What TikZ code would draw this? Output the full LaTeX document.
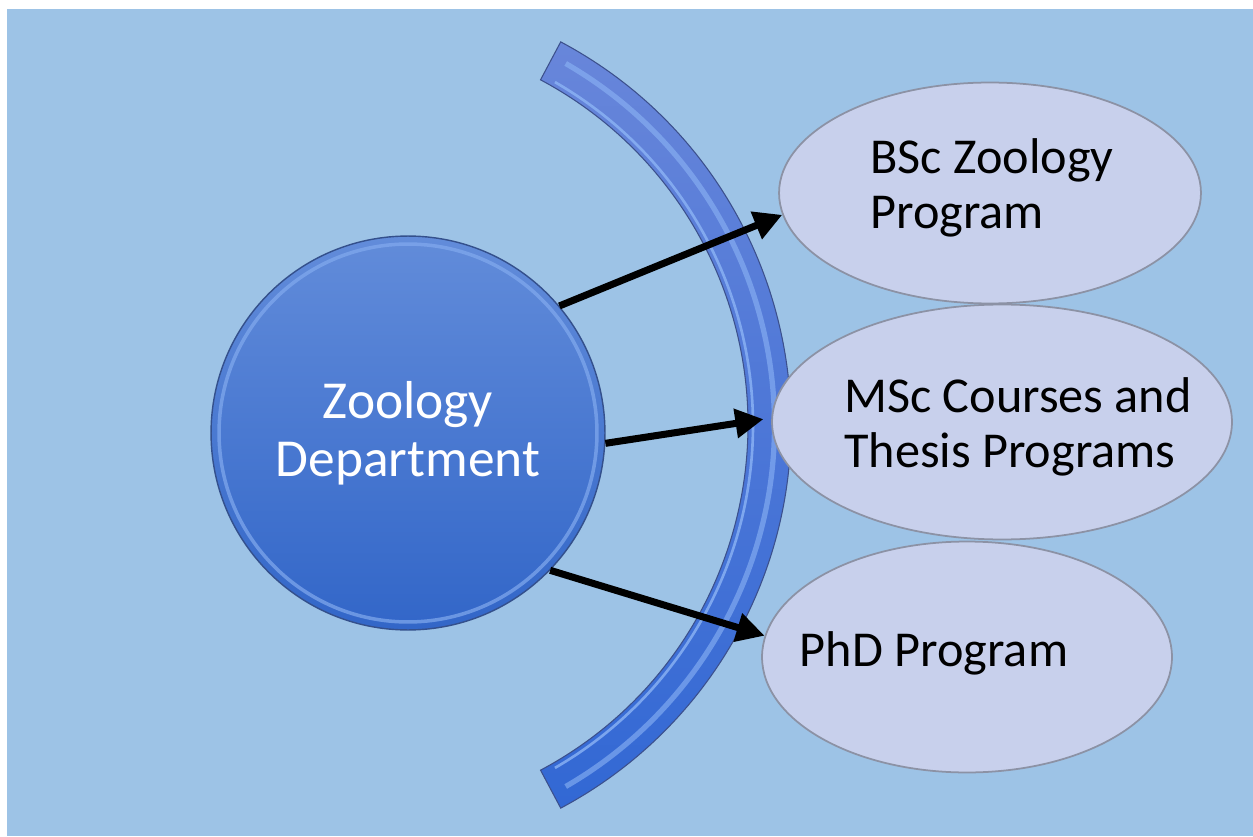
\documentclass[tikz,border=0pt]{standalone}
\usepackage{xcolor}
\usepackage{fontspec}
\setmainfont{Carlito}
\usepackage{tikz}
\usetikzlibrary{calc}
\usetikzlibrary{arrows.meta}
\usetikzlibrary{shapes}
\usetikzlibrary{positioning}
\usetikzlibrary{shapes.geometric}

\definecolor{bgblue}{RGB}{157,195,230}
\definecolor{depttop}{RGB}{98,140,218}
\definecolor{deptbot}{RGB}{50,102,200}
\definecolor{deptedge}{RGB}{52,80,140}
\definecolor{deptring}{RGB}{130,170,238}
\definecolor{bandtop}{RGB}{104,134,218}
\definecolor{bandbot}{RGB}{50,104,212}
\definecolor{bandedge}{RGB}{60,80,140}
\definecolor{bandlight}{RGB}{140,180,245}
\definecolor{progfill}{RGB}{200,208,236}
\definecolor{progedge}{RGB}{140,146,165}

\begin{document}
\begin{tikzpicture}[x=0.02cm, y=0.02cm,
  dept/.style={circle, minimum size=7.88cm, inner sep=0pt, draw=deptedge, line width=0.8pt,
    top color=depttop, bottom color=deptbot, text=white, align=center,
    font=\fontsize{30.4}{33}\selectfont},
  prog/.style={ellipse, draw=progedge, line width=1pt, fill=progfill, inner sep=0pt},
  progtext/.style={align=left, text=black, font=\fontsize{28.6}{31.2}\selectfont},
  link/.style={-{Triangle[length=16pt, width=16pt]}, line width=4pt, draw=black}]
\useasboundingbox (0,0) rectangle (1253,836);
\fill[bgblue] (7,0) rectangle (1253,827);

% curved band behind the programs
\coordinate (arcc) at (357,411);
\path[top color=bandtop, bottom color=bandbot, draw=bandedge, line width=0.6pt]
  ([shift={(62:8.68cm)}]arcc) arc[start angle=62, end angle=-62, radius=8.68cm]
  -- ([shift={(-62:7.82cm)}]arcc) arc[start angle=-62, end angle=62, radius=7.82cm] -- cycle;
\draw[bandlight, line width=3pt, opacity=0.6] ([shift={(60:8.35cm)}]arcc) arc[start angle=60, end angle=-60, radius=8.35cm];
\draw[bandlight, line width=1.5pt, opacity=0.8] ([shift={(60:7.92cm)}]arcc) arc[start angle=60, end angle=-60, radius=7.92cm];

\node[dept] (dept) at (408,403) {Zoology\\Department};
\draw[deptring, line width=2pt, opacity=0.7] (dept.center) circle[radius=3.78cm];

\node[prog, minimum width=8.44cm, minimum height=4.42cm] (bsc) at (990,643) {};
\node[prog, minimum width=9.2cm, minimum height=4.7cm] (msc) at (1002,414) {};
\node[prog, minimum width=8.2cm, minimum height=4.62cm] (phd) at (967,179) {};

\node[progtext] (bsctext) at ([shift={(2,5)}]bsc.center) {BSc Zoology\\Program};
\node[progtext] (msctext) at ([shift={(16,-5)}]msc.center) {MSc Courses and\\Thesis Programs};
\node[progtext] (phdtext) at ([shift={(-33,4)}]phd.center) {PhD Program};

\draw[link] (dept.40) to (bsc.186);
\draw[link, shorten >=4.5pt] (dept.-3) to (msc.179);
\draw[link] (dept.-44) to (phd.174);
\end{tikzpicture}
\end{document}
